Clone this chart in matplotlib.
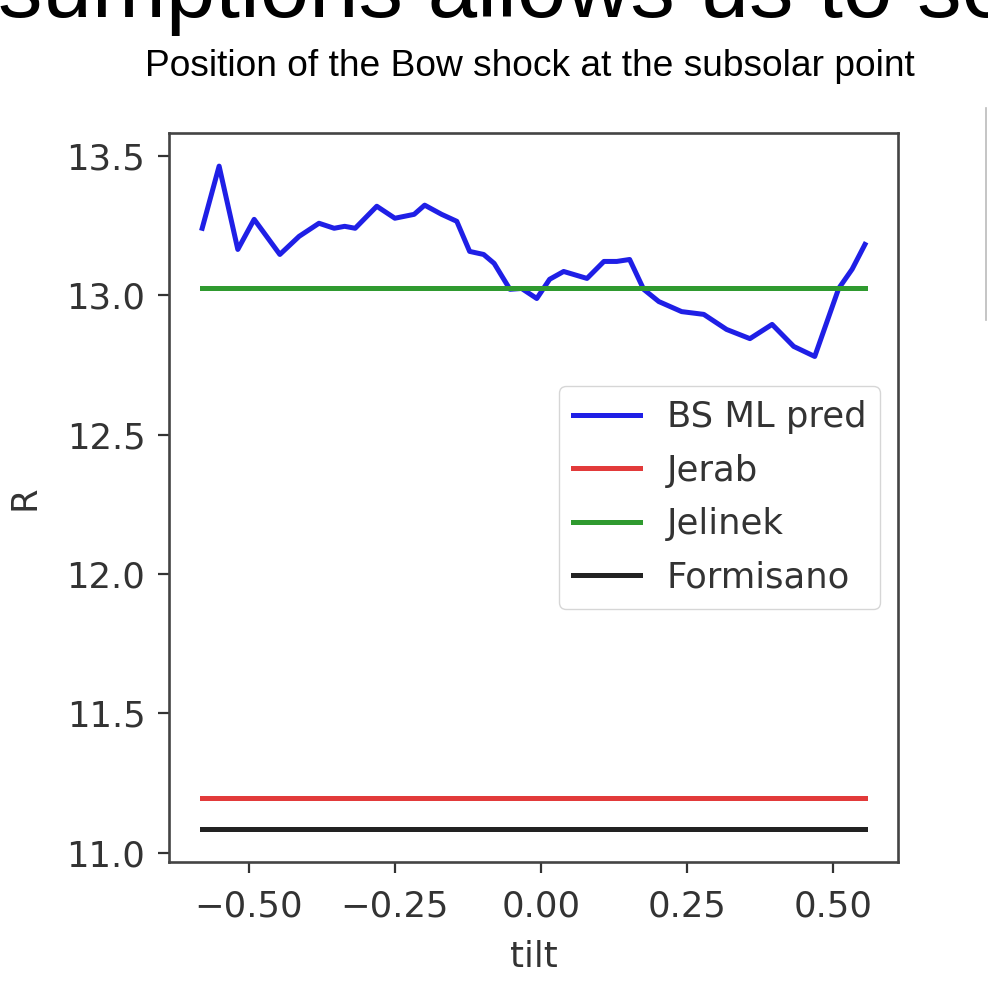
import matplotlib
matplotlib.use("Agg")
import matplotlib.pyplot as plt
from matplotlib.lines import Line2D

# blue curve (tilt, R)
tilt = [-0.580, -0.551, -0.519, -0.491, -0.447, -0.414, -0.380, -0.354, -0.336, -0.318,
        -0.281, -0.250, -0.217, -0.199, -0.170, -0.144, -0.122, -0.098, -0.080, -0.053,
        -0.033, -0.007, 0.015, 0.039, 0.079, 0.108, 0.130, 0.152, 0.176, 0.202,
        0.241, 0.279, 0.318, 0.358, 0.396, 0.433, 0.469, 0.510, 0.533, 0.555]
bs_ml_pred = [13.241, 13.464, 13.165, 13.273, 13.147, 13.212, 13.259, 13.241, 13.248, 13.241,
              13.320, 13.277, 13.291, 13.324, 13.291, 13.266, 13.158, 13.147, 13.115, 13.022,
              13.025, 12.989, 13.058, 13.086, 13.061, 13.122, 13.122, 13.129, 13.022, 12.978,
              12.942, 12.932, 12.878, 12.845, 12.896, 12.817, 12.781, 13.025, 13.094, 13.183]

# constant models
jerab = 11.198
jelinek = 13.027
formisano = 11.086

labels = ["BS ML pred", "Jerab", "Jelinek", "Formisano"]
colors = ["#1f1fe6", "#e23a3a", "#2f9a2f", "#222222"]

fig = plt.figure(figsize=(9.88, 9.91), dpi=100)
ax = fig.add_axes([0.1711, 0.1302, 0.7379, 0.7356])

ends = [tilt[0], tilt[-1]]
ax.plot(tilt, bs_ml_pred, color=colors[0], lw=3.6, label=labels[0])
ax.plot(ends, [jerab, jerab], color=colors[1], lw=3.6, label=labels[1])
ax.plot(ends, [jelinek, jelinek], color=colors[2], lw=3.6, label=labels[2])
ax.plot(ends, [formisano, formisano], color=colors[3], lw=3.6, label=labels[3])

ax.set_xticks([-0.5, -0.25, 0.0, 0.25, 0.5])
ax.set_yticks([11.0, 11.5, 12.0, 12.5, 13.0, 13.5])
ax.tick_params(labelsize=25.5, length=8, width=1.6, colors="#333333")
ax.tick_params(axis="x", pad=12)
ax.tick_params(axis="y", pad=9)
for s in ax.spines.values():
    s.set_linewidth(1.9)
    s.set_color("#444444")
ax.set_xlabel("tilt", fontsize=25.5, color="#333333", labelpad=12)
ax.set_ylabel("R", fontsize=25.5, color="#333333", labelpad=18)

leg = ax.legend(loc="center right", fontsize=25.5, handlelength=1.9, handletextpad=0.75,
                labelspacing=0.55, borderaxespad=0.5)
for t in leg.get_texts():
    t.set_color("#333333")

# slide text around the plot
fig.text(-0.002, 1 - 17 / 991, "sumptions allows us to se", fontsize=64,
         family="Liberation Sans", ha="left", va="baseline")
fig.text(530 / 988, 1 - 76 / 991, "Position of the Bow shock at the subsolar point",
         fontsize=26.7, family="Liberation Sans", ha="center", va="baseline")

# edge of the neighbouring picture on the slide
fig.add_artist(Line2D([986 / 988, 986 / 988], [1 - 108 / 991, 1 - 320 / 991],
                      transform=fig.transFigure, color="#bbbbbb", lw=1.2))

fig.savefig("out.png", dpi=100)
